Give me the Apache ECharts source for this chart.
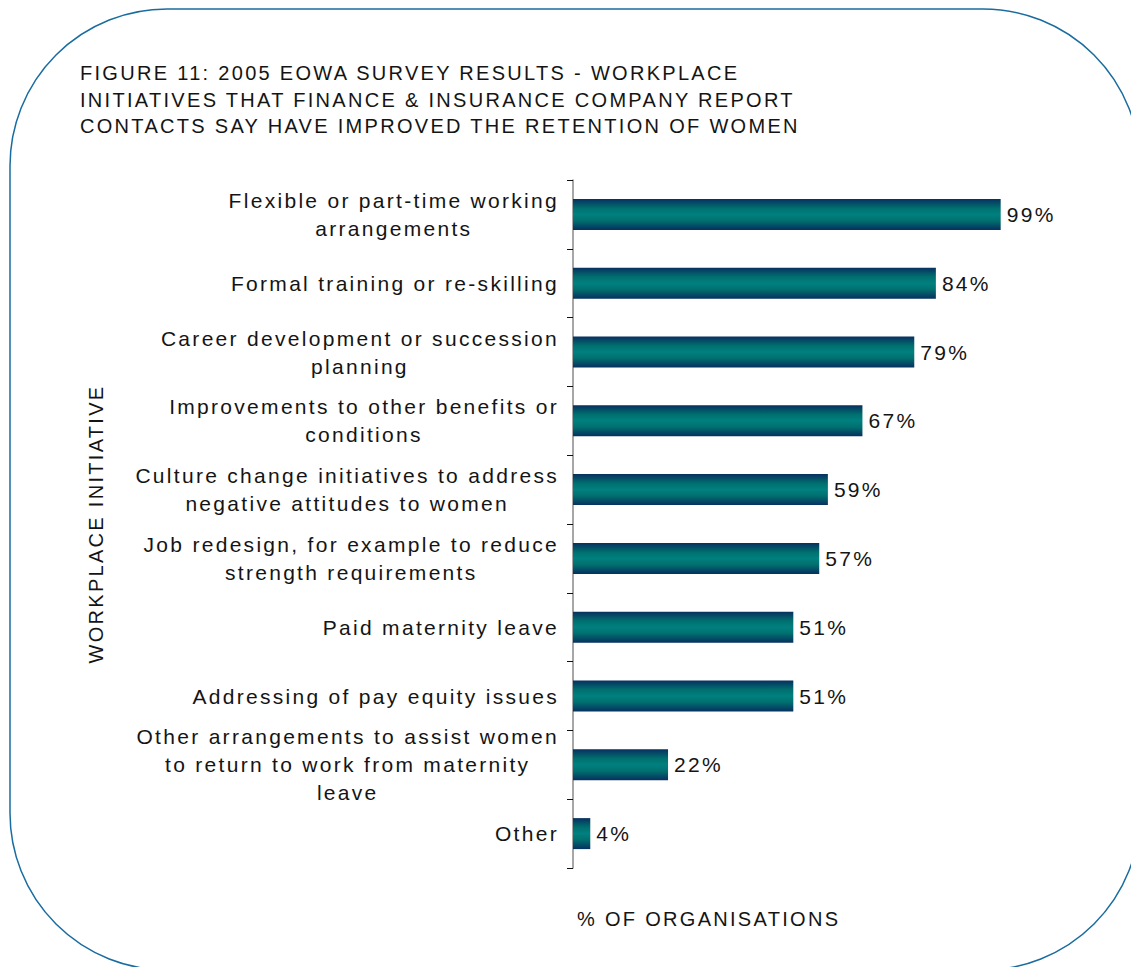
<!DOCTYPE html>
<html>
<head>
<meta charset="utf-8">
<script src="https://cdn.jsdelivr.net/npm/echarts@6/dist/echarts.min.js"></script>
<style>
  html, body { margin: 0; padding: 0; background: #ffffff; }
  #chart { width: 1131px; height: 967px; }
  #chart text { letter-spacing: 2.3px; }
</style>
</head>
<body>
<div id="chart"></div>
<script>
// Workplace initiatives and share of organisations reporting improved retention
const categories = [
  'Flexible or part-time working\narrangements',
  'Formal training or re-skilling',
  'Career development or succession\nplanning',
  'Improvements to other benefits or\nconditions',
  'Culture change initiatives to address\nnegative attitudes to women',
  'Job redesign, for example to reduce\nstrength requirements',
  'Paid maternity leave',
  'Addressing of pay equity issues',
  'Other arrangements to assist women\nto return to work from maternity\nleave',
  'Other'
];
const values = [99, 84, 79, 67, 59, 57, 51, 51, 22, 4];

const titleLines = [
  'FIGURE 11: 2005 EOWA SURVEY RESULTS - WORKPLACE',
  'INITIATIVES THAT FINANCE & INSURANCE COMPANY REPORT',
  'CONTACTS SAY HAVE IMPROVED THE RETENTION OF WOMEN'
];
const xAxisTitle = '% OF ORGANISATIONS';
const yAxisTitle = 'WORKPLACE INITIATIVE';

const FONT = "'Liberation Sans', Arial, sans-serif";
const TEXT_COLOR = '#141414';
const LETTER_SPACING = 2.3;

// Text is drawn with CSS letter-spacing, so measurements include it too
const measureCtx = document.createElement('canvas').getContext('2d');
if (echarts.setPlatformAPI) {
  echarts.setPlatformAPI({
    measureText(text, font) {
      measureCtx.font = font || '12px sans-serif';
      const s = text == null ? '' : String(text);
      return { width: measureCtx.measureText(s).width + LETTER_SPACING * s.length };
    }
  });
}

const chart = echarts.init(document.getElementById('chart'), null, { renderer: 'svg' });

const barGradient = new echarts.graphic.LinearGradient(0, 0, 0, 1, [
  { offset: 0, color: '#07305f' },
  { offset: 0.3, color: '#00706f' },
  { offset: 0.5, color: '#008080' },
  { offset: 0.7, color: '#00706f' },
  { offset: 1, color: '#07305f' }
]);

chart.setOption({
  backgroundColor: '#ffffff',
  animation: false,
  title: [
    {
      text: titleLines.join('\n'),
      left: 75,
      top: 55,
      textStyle: {
        fontFamily: FONT,
        fontSize: 20,
        fontWeight: 'normal',
        color: TEXT_COLOR,
        lineHeight: 26.5
      }
    },
    {
      text: xAxisTitle,
      left: 572,
      top: 903,
      textStyle: {
        fontFamily: FONT,
        fontSize: 20,
        fontWeight: 'normal',
        color: TEXT_COLOR
      }
    }
  ],
  graphic: [
    {
      type: 'rect',
      silent: true,
      shape: { x: 10, y: 9, width: 1130, height: 961, r: 157 },
      style: { fill: 'none', stroke: '#1a6ca0', lineWidth: 1.5 }
    }
  ],
  grid: {
    left: 573,
    right: 126,
    top: 180,
    bottom: 99,
    containLabel: false
  },
  xAxis: {
    type: 'value',
    min: 0,
    max: 100,
    show: false
  },
  yAxis: {
    type: 'category',
    data: categories,
    inverse: true,
    name: yAxisTitle,
    nameLocation: 'middle',
    nameRotate: 90,
    nameGap: 466,
    nameTextStyle: {
      fontFamily: FONT,
      fontSize: 20,
      color: TEXT_COLOR
    },
    axisLine: { show: true, lineStyle: { color: '#8a8a8a', width: 1.5 } },
    axisTick: { show: true, length: 6, lineStyle: { color: '#111111', width: 1 } },
    axisLabel: {
      margin: 14,
      align: 'right',
      formatter: v => v.split('\n').map(l => '{c|' + l + '}').join('\n'),
      rich: {
        c: {
          align: 'center',
          fontFamily: FONT,
          fontSize: 21,
          lineHeight: 28,
          color: TEXT_COLOR
        }
      }
    },
    splitLine: { show: false }
  },
  series: [
    {
      type: 'bar',
      data: values,
      barWidth: 31,
      itemStyle: { color: barGradient },
      label: {
        show: true,
        position: 'right',
        distance: 6,
        formatter: '{c}%',
        fontFamily: FONT,
        fontSize: 21,
        color: TEXT_COLOR
      }
    }
  ]
});
</script>
</body>
</html>
